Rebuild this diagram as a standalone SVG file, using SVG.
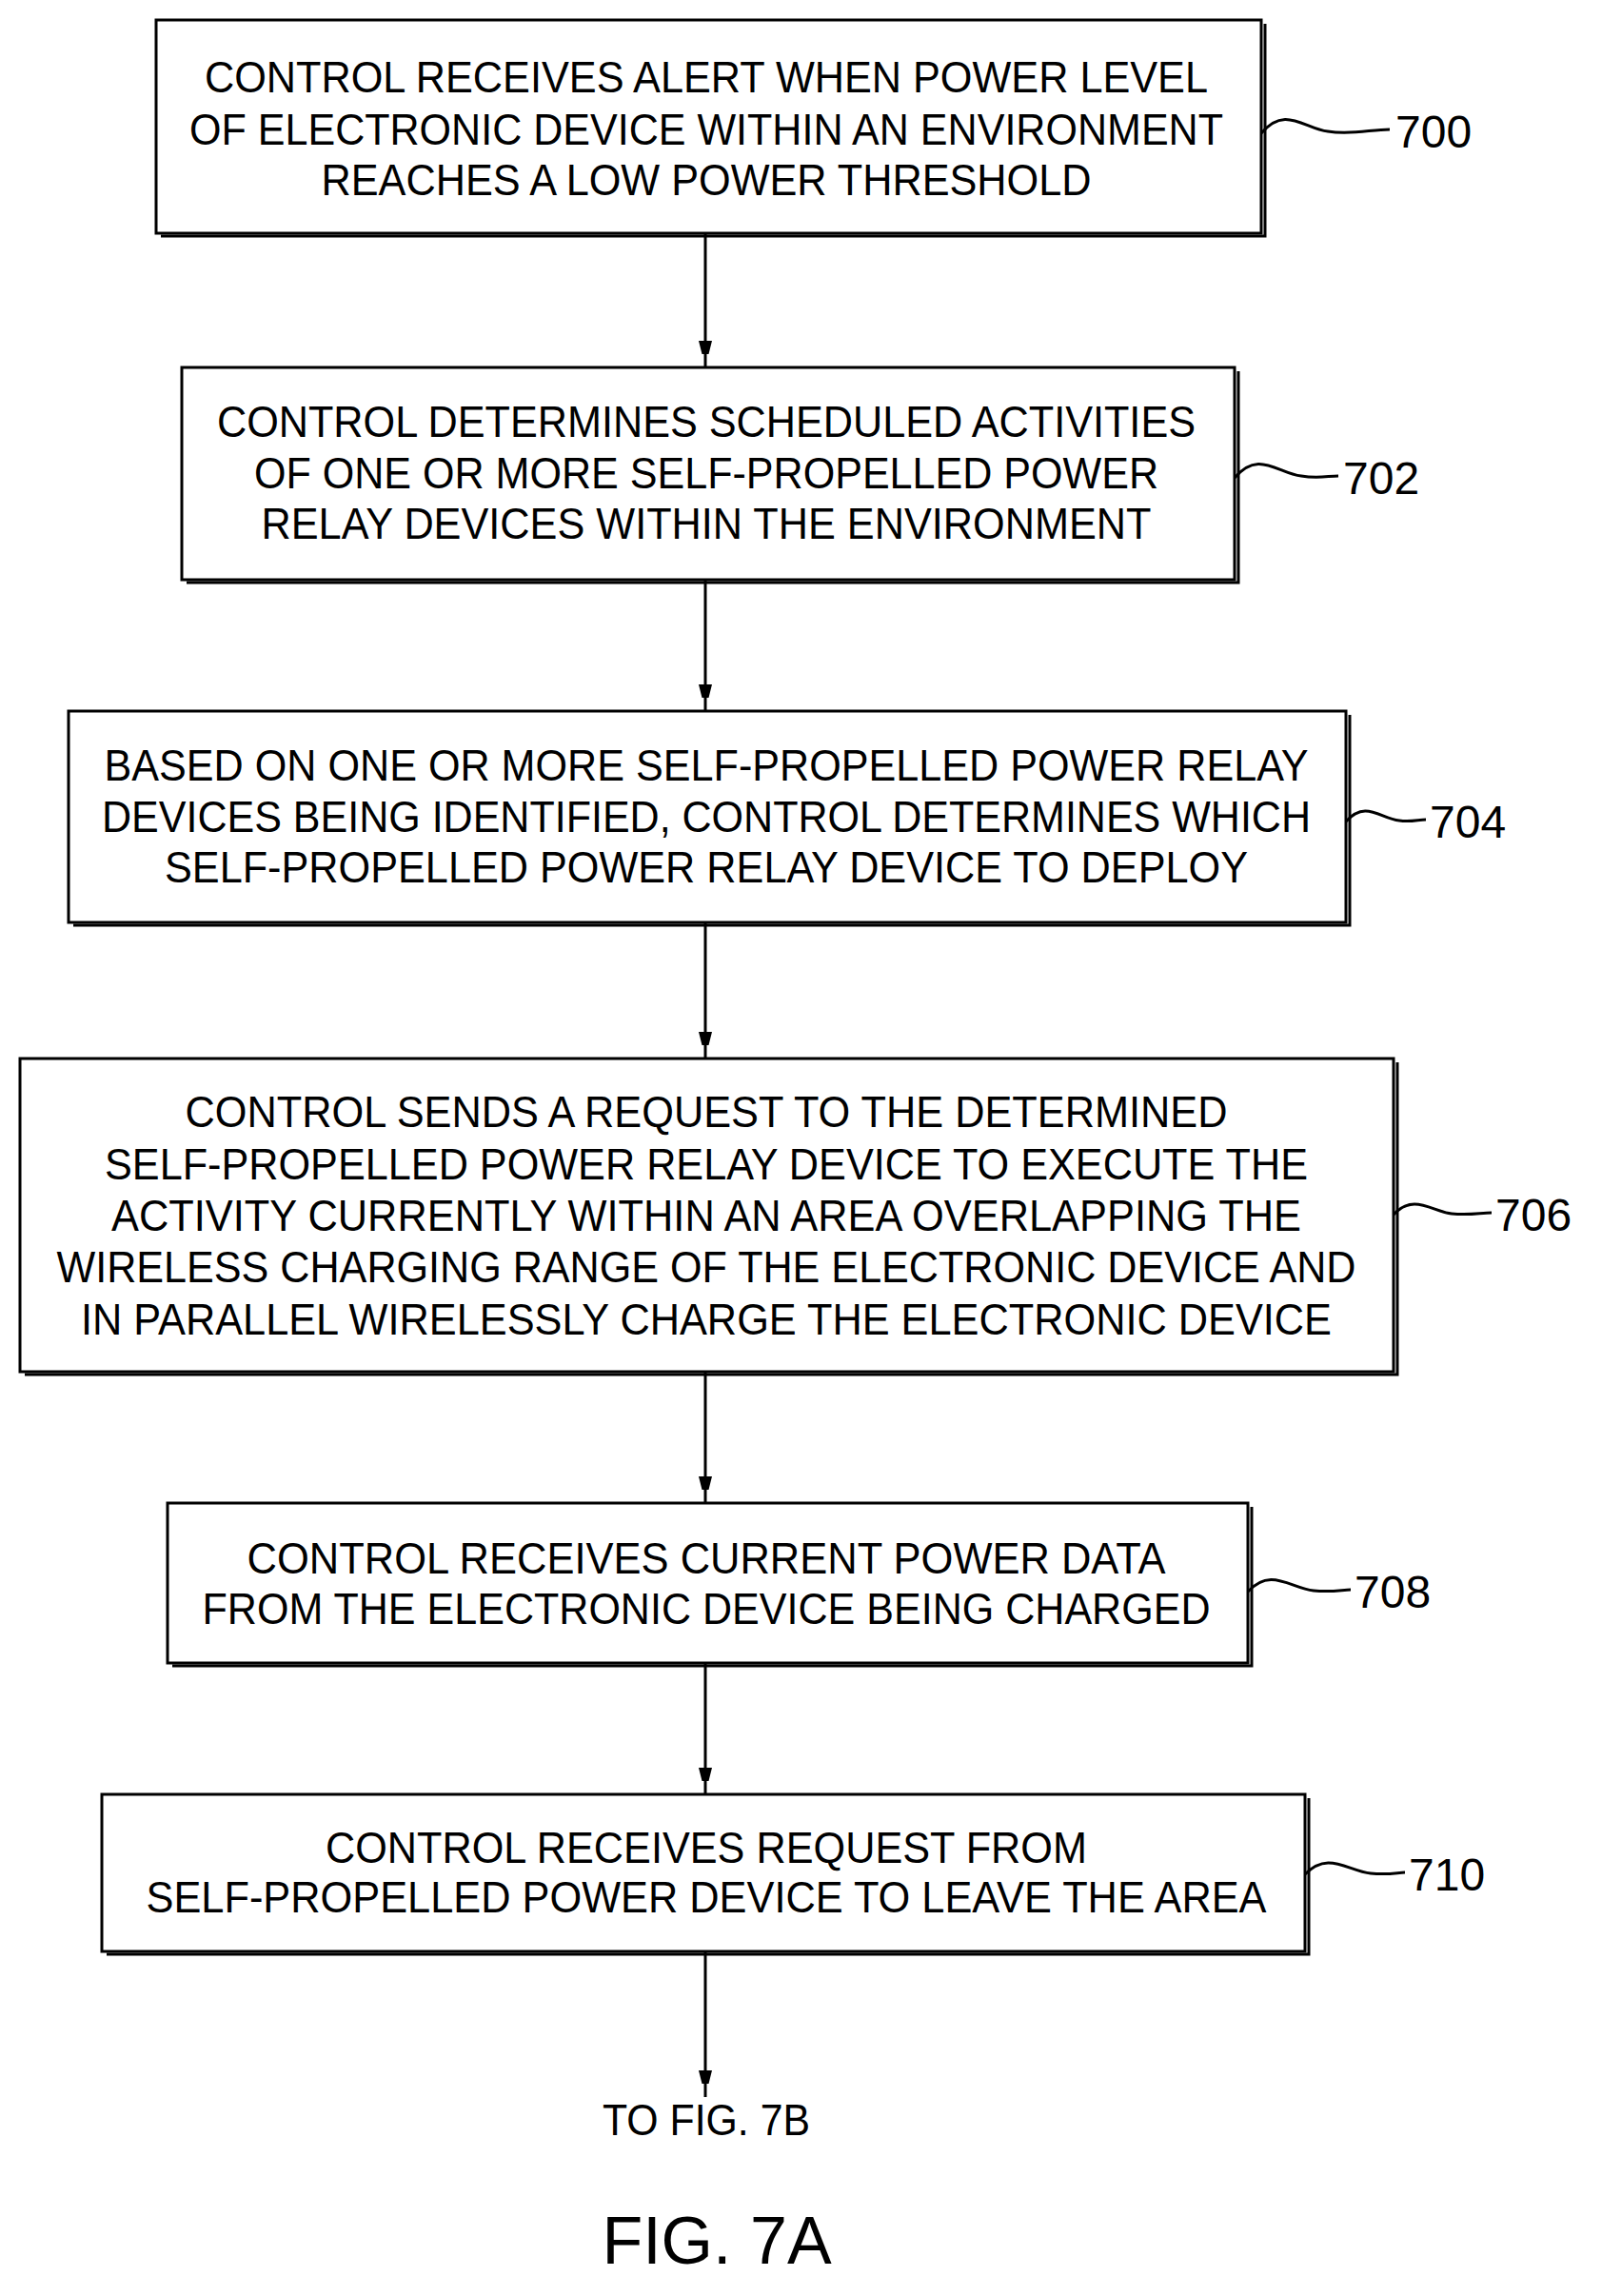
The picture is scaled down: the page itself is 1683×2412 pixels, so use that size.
<svg xmlns="http://www.w3.org/2000/svg" width="1683" height="2412" viewBox="0 0 1683 2412">
<style>
.b{fill:#fff;stroke:#000;stroke-width:3}
.s{fill:none;stroke:#000;stroke-width:3}
.t{font-family:"Liberation Sans",Arial,sans-serif;font-size:46px;text-anchor:middle;fill:#000}
.l{font-family:"Liberation Sans",Arial,sans-serif;font-size:48px;fill:#000}
.c{fill:none;stroke:#000;stroke-width:3}
</style>
<defs><marker id="a" markerWidth="12" markerHeight="24" refX="6" refY="24" orient="auto-start-reverse" markerUnits="userSpaceOnUse" viewBox="0 0 12 24"><path d="M0,0 L12,0 L6,24 Z" transform="rotate(-90 6 12) rotate(90 6 12)" fill="#000"/></marker>
<marker id="m" markerWidth="14" markerHeight="30" refX="28" refY="7" orient="auto" markerUnits="userSpaceOnUse"><path d="M0,0 L28,7 L0,14 Z" fill="#000"/></marker></defs>
<g id="connectors">
<path class="c" d="M741,245 V386" marker-end="url(#m)"/>
<path class="c" d="M741,609 V747" marker-end="url(#m)"/>
<path class="c" d="M741,969 V1112" marker-end="url(#m)"/>
<path class="c" d="M741,1441 V1579" marker-end="url(#m)"/>
<path class="c" d="M741,1747 V1885" marker-end="url(#m)"/>
<path class="c" d="M741,2050 V2203" marker-end="url(#m)"/>
</g>
<g id="n700"><path class="s" d="M169,248 H1329 V25"/><rect class="b" x="164" y="21" width="1161" height="224"/>
<text class="t" textLength="1054" lengthAdjust="spacingAndGlyphs" x="742" y="97">CONTROL RECEIVES ALERT WHEN POWER LEVEL</text>
<text class="t" textLength="1086" lengthAdjust="spacingAndGlyphs" x="742" y="152">OF ELECTRONIC DEVICE WITHIN AN ENVIRONMENT</text>
<text class="t" textLength="809" lengthAdjust="spacingAndGlyphs" x="742" y="205">REACHES A LOW POWER THRESHOLD</text>
<path class="c" d="M1325,140 C1350,110 1370,135 1395,138 C1420,142 1440,136 1460,136"/><text class="l" x="1466" y="155">700</text></g>
<g id="n702"><path class="s" d="M196,612 H1301 V390"/><rect class="b" x="191" y="386" width="1106" height="223"/>
<text class="t" textLength="1028" lengthAdjust="spacingAndGlyphs" x="742" y="459">CONTROL DETERMINES SCHEDULED ACTIVITIES</text>
<text class="t" textLength="950" lengthAdjust="spacingAndGlyphs" x="742" y="513">OF ONE OR MORE SELF-PROPELLED POWER</text>
<text class="t" textLength="935" lengthAdjust="spacingAndGlyphs" x="742" y="566">RELAY DEVICES WITHIN THE ENVIRONMENT</text>
<path class="c" d="M1297,502 C1322,472 1342,497 1367,500 C1385,503 1395,500 1406,500"/><text class="l" x="1411" y="519">702</text></g>
<g id="n704"><path class="s" d="M77,972 H1418 V751"/><rect class="b" x="72" y="747" width="1342" height="222"/>
<text class="t" textLength="1265" lengthAdjust="spacingAndGlyphs" x="742" y="820">BASED ON ONE OR MORE SELF-PROPELLED POWER RELAY</text>
<text class="t" textLength="1270" lengthAdjust="spacingAndGlyphs" x="742" y="874">DEVICES BEING IDENTIFIED, CONTROL DETERMINES WHICH</text>
<text class="t" textLength="1138" lengthAdjust="spacingAndGlyphs" x="742" y="927">SELF-PROPELLED POWER RELAY DEVICE TO DEPLOY</text>
<path class="c" d="M1414,863 C1435,840 1450,860 1470,862 C1482,864 1490,861 1498,861"/><text class="l" x="1502" y="880">704</text></g>
<g id="n706"><path class="s" d="M26,1444 H1468 V1116"/><rect class="b" x="21" y="1112" width="1443" height="329"/>
<text class="t" textLength="1095" lengthAdjust="spacingAndGlyphs" x="742" y="1184">CONTROL SENDS A REQUEST TO THE DETERMINED</text>
<text class="t" textLength="1264" lengthAdjust="spacingAndGlyphs" x="742" y="1239">SELF-PROPELLED POWER RELAY DEVICE TO EXECUTE THE</text>
<text class="t" textLength="1250" lengthAdjust="spacingAndGlyphs" x="742" y="1293">ACTIVITY CURRENTLY WITHIN AN AREA OVERLAPPING THE</text>
<text class="t" textLength="1365" lengthAdjust="spacingAndGlyphs" x="742" y="1347">WIRELESS CHARGING RANGE OF THE ELECTRONIC DEVICE AND</text>
<text class="t" textLength="1314" lengthAdjust="spacingAndGlyphs" x="742" y="1402">IN PARALLEL WIRELESSLY CHARGE THE ELECTRONIC DEVICE</text>
<path class="c" d="M1464,1276 C1485,1253 1505,1273 1525,1275 C1545,1277 1555,1274 1567,1274"/><text class="l" x="1571" y="1293">706</text></g>
<g id="n708"><path class="s" d="M181,1750 H1315 V1583"/><rect class="b" x="176" y="1579" width="1135" height="168"/>
<text class="t" textLength="965" lengthAdjust="spacingAndGlyphs" x="742" y="1653">CONTROL RECEIVES CURRENT POWER DATA</text>
<text class="t" textLength="1059" lengthAdjust="spacingAndGlyphs" x="742" y="1706">FROM THE ELECTRONIC DEVICE BEING CHARGED</text>
<path class="c" d="M1311,1672 C1335,1646 1355,1668 1380,1671 C1400,1673 1410,1670 1419,1670"/><text class="l" x="1423" y="1689">708</text></g>
<g id="n710"><path class="s" d="M112,2053 H1375 V1889"/><rect class="b" x="107" y="1885" width="1264" height="165"/>
<text class="t" textLength="800" lengthAdjust="spacingAndGlyphs" x="742" y="1957">CONTROL RECEIVES REQUEST FROM</text>
<text class="t" textLength="1177" lengthAdjust="spacingAndGlyphs" x="742" y="2009">SELF-PROPELLED POWER DEVICE TO LEAVE THE AREA</text>
<path class="c" d="M1371,1969 C1395,1944 1415,1965 1440,1968 C1460,1970 1468,1967 1476,1967"/><text class="l" x="1480" y="1986">710</text></g>
<text class="t" textLength="218" lengthAdjust="spacingAndGlyphs" x="742" y="2243">TO FIG. 7B</text>
<text font-family="Liberation Sans, Arial, sans-serif" font-size="70" text-anchor="middle" x="753" y="2378">FIG. 7A</text>
</svg>
